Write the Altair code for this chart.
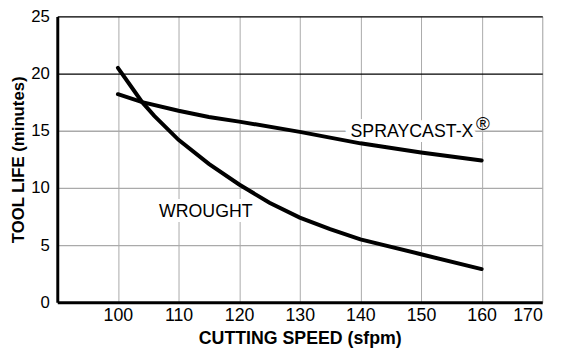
import altair as alt
import pandas as pd

speed_wrought = [100, 102, 104, 106, 110, 115, 120, 125, 130, 135, 140, 150, 160]
life_wrought = [20.5, 19.0, 17.5, 16.3, 14.2, 12.1, 10.3, 8.7, 7.4, 6.4, 5.5, 4.2, 2.9]
speed_spray = [100, 104, 110, 115, 120, 130, 140, 150, 160]
life_spray = [18.2, 17.5, 16.75, 16.2, 15.8, 14.9, 13.9, 13.1, 12.4]

label_text = ["WROUGHT", "SPRAYCAST-X"]
label_x = [114.5, 148.5]
label_y = [7.9, 14.9]
mark_text = ["®"]
mark_x = [160.2]
mark_y = [15.6]

rows = [{"speed": s, "life": l, "alloy": "WROUGHT"} for s, l in zip(speed_wrought, life_wrought)]
rows += [{"speed": s, "life": l, "alloy": "SPRAYCAST-X"} for s, l in zip(speed_spray, life_spray)]
df = pd.DataFrame(rows)
labels = pd.DataFrame({"text": label_text, "x": label_x, "y": label_y})
reg = pd.DataFrame({"text": mark_text, "x": mark_x, "y": mark_y})

FONT = "Liberation Sans"

xscale = alt.Scale(domain=[90, 170], nice=False, zero=False)
yscale = alt.Scale(domain=[0, 25], nice=False)

lines = alt.Chart(df).mark_line(color="black", strokeWidth=4, strokeCap="round").encode(
    x=alt.X("speed:Q", scale=xscale,
            axis=alt.Axis(title="CUTTING SPEED (sfpm)", values=[100, 110, 120, 130, 140, 150, 160, 170],
                          grid=True, gridColor="#aaa", gridWidth=1, ticks=False,
                          domainColor="black", domainWidth=3, labelFontSize=18, labelFont=FONT,
                          labelColor="black", labelPadding=5, titleFont=FONT, titleFontSize=18,
                          titleFontWeight="bold", titleColor="black", titlePadding=5)),
    y=alt.Y("life:Q", scale=yscale,
            axis=alt.Axis(title="TOOL LIFE (minutes)", values=[0, 5, 10, 15, 20, 25],
                          grid=True, gridColor=alt.condition("datum.value >= 20", alt.value("black"), alt.value("#aaa")),
                          gridWidth=1.3, ticks=False,
                          domainColor="black", domainWidth=3, labelFontSize=17, labelFont=FONT,
                          labelColor="black", labelPadding=8, titleFont=FONT, titleFontSize=17,
                          titleFontWeight="bold", titleColor="black", titlePadding=3)),
    detail="alloy:N",
)

halo = alt.Chart(labels).mark_text(font=FONT, fontSize=18, color="white", stroke="white",
                                   strokeWidth=10, align="center", baseline="middle").encode(
    x=alt.X("x:Q", scale=xscale), y=alt.Y("y:Q", scale=yscale), text="text:N")
txt = alt.Chart(labels).mark_text(font=FONT, fontSize=18, color="black",
                                  align="center", baseline="middle").encode(
    x=alt.X("x:Q", scale=xscale), y=alt.Y("y:Q", scale=yscale), text="text:N")
regmark = alt.Chart(reg).mark_text(font=FONT, fontSize=19, color="black",
                                   align="center", baseline="middle").encode(
    x=alt.X("x:Q", scale=xscale), y=alt.Y("y:Q", scale=yscale), text="text:N")

chart = alt.layer(halo, lines, txt, regmark).properties(
    width=492, height=290,
    autosize=alt.AutoSizeParams(type="none"),
    padding={"left": 50, "top": 6, "right": 19, "bottom": 52},
).configure_view(stroke="#777", strokeWidth=1).configure(background="white")

chart.save("out.html", embed_options={"renderer": "svg", "actions": False})
